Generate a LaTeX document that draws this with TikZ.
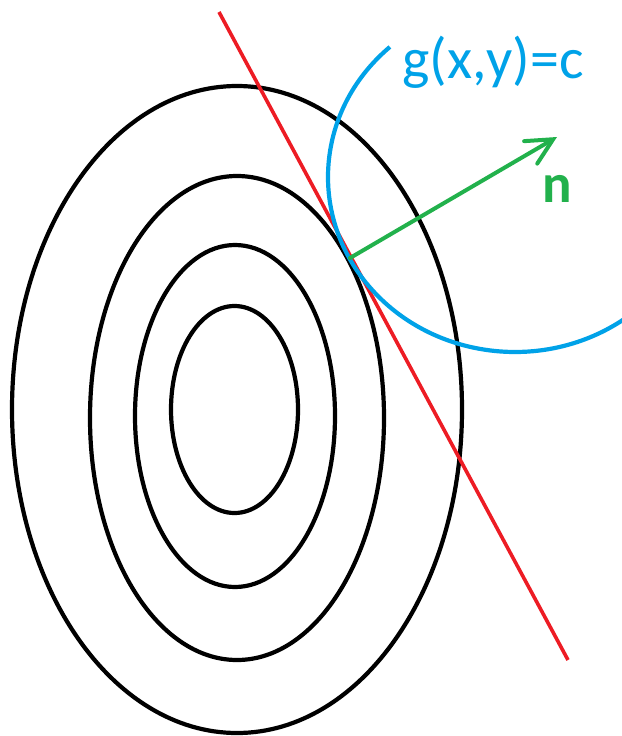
\documentclass[tikz,border=0pt]{standalone}
\usepackage{fontspec}
\setmainfont{Carlito}
\usetikzlibrary{arrows.meta}
\definecolor{pblue}{RGB}{0,162,232}
\definecolor{pred}{RGB}{237,28,36}
\definecolor{pgreen}{RGB}{34,177,76}
\begin{document}
\begin{tikzpicture}[x=1pt,y=-1pt,
  contour/.style={black,line width=4.2pt},
  tangent/.style={pred,line width=3.6pt},
  constraint/.style={pblue,line width=4.2pt},
  normalvec/.style={pgreen,line width=4pt,line cap=round,-{Straight Barb[length=26pt,width=26pt,line cap=round]}},
  lbl/.style={inner sep=0pt,font=\fontsize{58}{58}\selectfont}]
\useasboundingbox (0,0) rectangle (621,736);
\draw[contour] (237,409.5) ellipse [x radius=225, y radius=323.5];
\draw[contour] (237,418) ellipse [x radius=147, y radius=242];
\draw[contour] (235,416) ellipse [x radius=100, y radius=171];
\draw[contour] (234.5,409.5) ellipse [x radius=63.5, y radius=103.5];
\coordinate (L1) at (219,12);
\coordinate (L2) at (568,660);
\draw[tangent] (L1) -- (L2);
\coordinate (C) at (515,177);
\draw[constraint] (C) ++(228:187 and 175) arc [start angle=228, end angle=54.5, x radius=187, y radius=175];
\coordinate (T) at (350,258);
\coordinate (N) at (557,137);
\draw[normalvec] (T) -- (N);
\node[lbl,text=pblue,anchor=base west] (g) at (402,78) {g(x,y)=c};
\node[lbl,text=pgreen,anchor=base,font=\fontsize{55}{55}\selectfont\bfseries] (n) at (557,202) {n};
\end{tikzpicture}
\end{document}
